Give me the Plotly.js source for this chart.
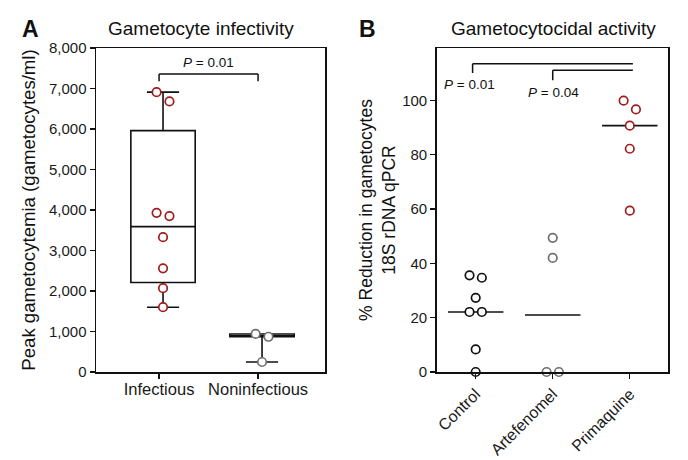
<!DOCTYPE html>
<html><head><meta charset="utf-8">
<script src="https://cdn.plot.ly/plotly-3.0.1.min.js"></script>
<style>html,body{margin:0;padding:0;background:#fff}#chart{width:688px;height:460px}</style>
</head><body><div id="chart"></div>
<script>
// ---- Panel A data ----
const groupsA = ["Infectious", "Noninfectious"];
const infectious = [6910, 6680, 3930, 3850, 3330, 2560, 2070, 1600];
const noninfectious = [940, 870, 247];
const boxQ1 = [2210, 870];
const boxMedian = [3590, 870];
const boxQ3 = [5960, 940];
const boxLow = [1600, 247];
const boxHigh = [6910, 940];
const pA = "0.01";

// ---- Panel B data ----
const groupsB = ["Control", "Artefenomel", "Primaquine"];
const control = [35.6, 34.7, 27.3, 22.1, 22.1, 8.3, 0];
const artefenomel = [49.4, 42.0, 0, 0];
const primaquine = [99.9, 96.7, 90.7, 82.2, 59.4];
const pB = ["0.01", "0.04"];

// ---- styling ----
const RED = "#a01c1f", GRAY = "#6f6f6f", BLACK = "#111";
const FONT = "Liberation Sans, Arial, Helvetica, sans-serif";
const W = 688, H = 460;
const px = x => x / W, py = y => 1 - y / H;

// simple beeswarm: pair close values side by side
function swarm(vals, center, thresh, d) {
  const xs = new Array(vals.length).fill(center);
  const idx = vals.map((v, i) => i).sort((a, b) => vals[b] - vals[a]);
  for (let k = 0; k < idx.length; k++) {
    if (k + 1 < idx.length && Math.abs(vals[idx[k]] - vals[idx[k + 1]]) < thresh) {
      xs[idx[k]] = center - d; xs[idx[k + 1]] = center + d; k++;
    }
  }
  return xs;
}
function median(a) {
  const s = [...a].sort((x, y) => x - y), n = s.length;
  return n % 2 ? s[(n - 1) / 2] : (s[n / 2 - 1] + s[n / 2]) / 2;
}
function pts(vals, center, thresh, d, color, xa, ya) {
  return {
    type: "scatter", mode: "markers", x: swarm(vals, center, thresh, d), y: vals,
    xaxis: xa, yaxis: ya, cliponaxis: false, showlegend: false, hoverinfo: "y",
    marker: { symbol: "circle", size: 8.5, color: "#fff", line: { color: color, width: 1.7 } }
  };
}

const traces = [];
// Box plot A
traces.push({
  type: "box", x: [0, 1], q1: boxQ1, median: boxMedian, q3: boxQ3,
  lowerfence: boxLow, upperfence: boxHigh, boxpoints: false,
  width: 0.65, whiskerwidth: 0.5, fillcolor: "#fff",
  line: { color: BLACK, width: 1.6 }, xaxis: "x", yaxis: "y", showlegend: false
});
traces.push(pts(infectious, 0, 320, 0.065, RED, "x", "y"));
traces.push(pts(noninfectious, 1, 320, 0.065, GRAY, "x", "y"));

// Panel B medians + points
const bSets = [control, artefenomel, primaquine];
const bCols = [BLACK, GRAY, RED];
bSets.forEach((vals, i) => {
  const m = median(vals);
  traces.push({
    type: "scatter", mode: "lines", x: [i - 0.36, i + 0.36], y: [m, m],
    xaxis: "x2", yaxis: "y2", showlegend: false, hoverinfo: "skip",
    line: { color: BLACK, width: 1.6 }
  });
});
bSets.forEach((vals, i) => traces.push(pts(vals, i, 4.4, 0.08, bCols[i], "x2", "y2")));

const tickOff = -0.04;
const axisCommon = {
  showline: true, mirror: true, linecolor: BLACK, linewidth: 1.5,
  showgrid: false, zeroline: false, ticks: "outside", ticklen: 5,
  tickwidth: 1.3, tickcolor: BLACK,
  tickfont: { family: FONT, size: 15, color: "#1a1a1a" }
};

const shapes = [];
function bracket(xref, yref, x0, x1, y, y0a, y0b) {
  const l = { color: BLACK, width: 1.5 };
  shapes.push({ type: "line", xref, yref, x0, x1, y0: y, y1: y, line: l });
  if (y0a != null) shapes.push({ type: "line", xref, yref, x0: x0, x1: x0, y0: y, y1: y0a, line: l });
  if (y0b != null) shapes.push({ type: "line", xref, yref, x0: x1, x1: x1, y0: y, y1: y0b, line: l });
}
bracket("x", "y", 0 + tickOff, 1 + tickOff, 7360, 7180, 7180);
bracket("x2", "y2", 0 - 0.04, 2 + 0.04, 113.5, 110.1, null);
bracket("x2", "y2", 1, 2 + 0.04, 111.1, 107.4, null);

const annFont = { family: FONT, size: 13.5, color: BLACK };
const A = (o) => Object.assign({ showarrow: false, xanchor: "center", yanchor: "middle" }, o);
const annotations = [
  A({ xref: "paper", yref: "paper", x: px(30), y: py(29), text: "<b>A</b>",
    font: { family: FONT, size: 23, color: BLACK } }),
  A({ xref: "paper", yref: "paper", x: px(368), y: py(29), text: "<b>B</b>",
    font: { family: FONT, size: 23, color: BLACK } }),
  A({ xref: "paper", yref: "paper", x: px(201), y: py(29), text: "Gametocyte infectivity",
    font: { family: FONT, size: 19, color: BLACK } }),
  A({ xref: "paper", yref: "paper", x: px(553), y: py(29), text: "Gametocytocidal activity",
    font: { family: FONT, size: 19, color: BLACK } }),
  A({ xref: "x", yref: "y", x: 0.5 + tickOff, y: 7640, text: "<i>P</i> = " + pA, font: annFont }),
  A({ xref: "x2", yref: "y2", x: -0.074, y: 105.7, text: "<i>P</i> = " + pB[0], font: annFont }),
  A({ xref: "x2", yref: "y2", x: 1.01, y: 103, text: "<i>P</i> = " + pB[1], font: annFont })
];

const layout = {
  width: W, height: H, margin: { l: 0, r: 0, t: 0, b: 0 },
  paper_bgcolor: "#fff", plot_bgcolor: "#fff", showlegend: false,
  font: { family: FONT, color: BLACK },
  xaxis: Object.assign({}, axisCommon, {
    domain: [px(96), px(325)], range: [-0.677, 1.636], anchor: "y",
    tickvals: groupsA.map((g, i) => i + tickOff), ticktext: groupsA,
    ticklabelstandoff: -3,
    tickfont: { family: FONT, size: 16.5, color: "#1a1a1a" }
  }),
  yaxis: Object.assign({}, axisCommon, {
    domain: [py(372), py(48)], range: [0, 8000], dtick: 1000, tickformat: ",d", anchor: "x",
    title: { text: "Peak gametocytemia (gametocytes/ml)", standoff: 8,
      font: { family: FONT, size: 18.6, color: BLACK } }
  }),
  xaxis2: Object.assign({}, axisCommon, {
    domain: [px(436.7), px(668.3)], range: [-0.506, 2.5], anchor: "y2",
    tickvals: groupsB.map((g, i) => i), ticktext: groupsB, tickangle: -45,
    tickfont: { family: FONT, size: 16, color: "#1a1a1a" }
  }),
  yaxis2: Object.assign({}, axisCommon, {
    domain: [py(372), py(48)], range: [0, 119.3], dtick: 20, anchor: "x2",
    title: { text: "% Reduction in gametocytes<br>18S rDNA qPCR", standoff: 2,
      font: { family: FONT, size: 17.5, color: BLACK } }
  }),
  shapes, annotations
};

Plotly.newPlot("chart", traces, layout, { displayModeBar: false, staticPlot: true });
</script></body></html>
